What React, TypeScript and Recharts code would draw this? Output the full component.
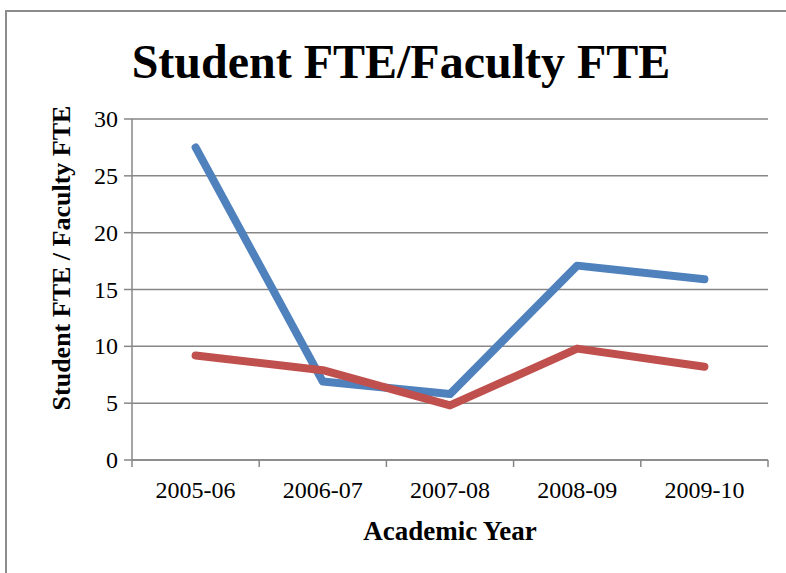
import { LineChart, Line, XAxis, YAxis, CartesianGrid } from 'recharts';

const years = ['2005-06', '2006-07', '2007-08', '2008-09', '2009-10'];
const seriesA = [27.5, 6.9, 5.8, 17.1, 15.9];
const seriesB = [9.2, 7.9, 4.8, 9.8, 8.2];
const yTicks = [0, 5, 10, 15, 20, 25, 30];

const data = years.map((year, i) => ({ year, a: seriesA[i], b: seriesB[i] }));

const FONT = '"Liberation Serif", "Times New Roman", serif';
const GRAY = '#878787';

// category labels sit in the band centre, tick marks sit on the band edges
function YearTick(props: any) {
    const { x, y, payload, index, visibleTicksCount } = props;
    const half = payload && payload.offset ? payload.offset : 63.6;
    const top = y - 8;
    return (
        <g>
            <line x1={x - half} y1={top} x2={x - half} y2={top + 7} stroke={GRAY} strokeWidth={1.5} />
            {index === visibleTicksCount - 1 && (
                <line x1={x + half} y1={top} x2={x + half} y2={top + 7} stroke={GRAY} strokeWidth={1.5} />
            )}
            <text x={x} y={y + 30} textAnchor="middle" fontFamily={FONT} fontSize={24} fill="#000">
                {payload.value}
            </text>
        </g>
    );
}

function ValueTick(props: any) {
    const { x, y, payload } = props;
    return (
        <text x={x} y={y + 8} textAnchor="end" fontFamily={FONT} fontSize={24} fill="#000">
            {payload.value}
        </text>
    );
}

export default function App() {
    return (
        <div style={{ position: 'absolute', left: 0, top: 0, width: 786, height: 573, background: '#fff', overflow: 'hidden' }}>
            <div style={{ position: 'absolute', left: 5, top: 10, width: 820, height: 620, border: '2px solid #8c8c8c' }} />
            <div style={{ position: 'absolute', left: 0, top: 32, width: 802, textAlign: 'center', fontFamily: FONT, fontWeight: 'bold', fontSize: 48, lineHeight: '60px', color: '#000' }}>
                Student FTE/Faculty FTE
            </div>
            <div style={{ position: 'absolute', left: 62, top: 258, width: 0, height: 0 }}>
                <div style={{ position: 'absolute', left: -200, top: -17, width: 400, textAlign: 'center', transform: 'rotate(-90deg)', fontFamily: FONT, fontWeight: 'bold', fontSize: 26, lineHeight: '34px', whiteSpace: 'nowrap' }}>
                    Student FTE / Faculty FTE
                </div>
            </div>
            <div style={{ position: 'absolute', left: 250, top: 513, width: 400, textAlign: 'center', fontFamily: FONT, fontWeight: 'bold', fontSize: 27, lineHeight: '36px' }}>
                Academic Year
            </div>
            <div style={{ position: 'absolute', left: 0, top: 0 }}>
                <LineChart width={786} height={573} data={data} margin={{ top: 119, right: 18, left: 0, bottom: 0 }}>
                    <CartesianGrid vertical={false} stroke={GRAY} strokeWidth={1.5} />
                    <XAxis
                        dataKey="year"
                        scale="band"
                        height={113}
                        axisLine={{ stroke: GRAY, strokeWidth: 1.5 }}
                        tickLine={false}
                        tick={<YearTick />}
                        interval={0}
                    />
                    <YAxis
                        domain={[0, 30]}
                        ticks={yTicks}
                        width={132}
                        axisLine={{ stroke: GRAY, strokeWidth: 1.5 }}
                        tickLine={{ stroke: GRAY, strokeWidth: 1.5 }}
                        tickSize={8}
                        tickMargin={6}
                        tick={<ValueTick />}
                    />
                    <Line dataKey="a" stroke="#4F81BD" strokeWidth={8} strokeLinecap="round" strokeLinejoin="round" dot={false} activeDot={false} isAnimationActive={false} />
                    <Line dataKey="b" stroke="#C0504D" strokeWidth={8} strokeLinecap="round" strokeLinejoin="round" dot={false} activeDot={false} isAnimationActive={false} />
                </LineChart>
            </div>
        </div>
    );
}
